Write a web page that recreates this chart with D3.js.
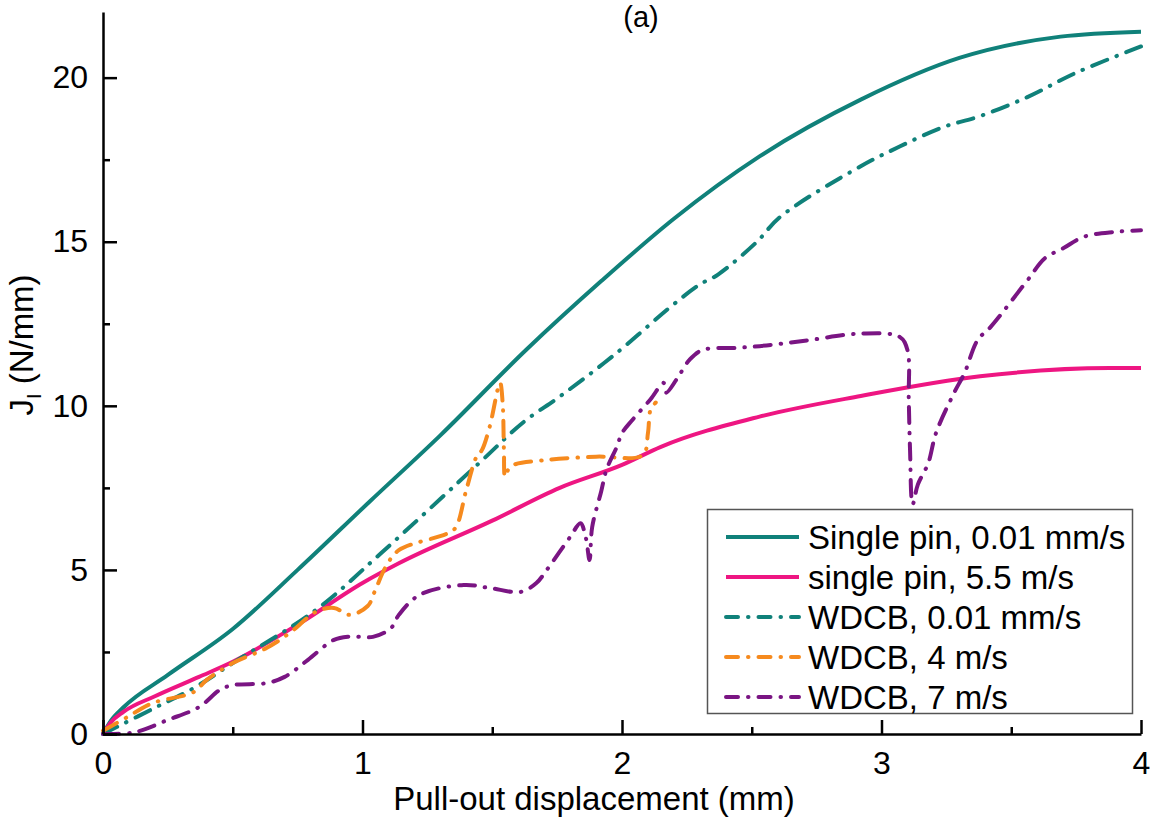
<!DOCTYPE html>
<html>
<head>
<meta charset="utf-8">
<script src="https://cdn.jsdelivr.net/npm/d3@7"></script>
<style>
  html, body { margin: 0; padding: 0; background: #fff; }
  svg { display: block; font-family: "Liberation Sans", Arial, sans-serif; }
</style>
</head>
<body>
<svg id="chart" width="1156" height="818"></svg>
<script>
// ---- data ----
const xTicks = [0, 1, 2, 3, 4];
const yTicks = [0, 5, 10, 15, 20];

const singleSlowX = [0, 0.03, 0.077, 0.25, 0.5, 0.75, 1.03, 1.3, 1.63, 1.92, 2.2, 2.53, 2.92, 3.3, 3.69, 4.0];
const singleSlowY = [0, 0.4, 0.8, 1.8, 3.2, 5.0, 7.1, 9.1, 11.7, 13.8, 15.7, 17.6, 19.33, 20.6, 21.25, 21.4];

const singleFastX = [0, 0.03, 0.08, 0.2, 0.37, 0.5, 0.76, 1.0, 1.14, 1.5, 1.76, 2.0, 2.15, 2.53, 2.92, 3.38, 3.88, 4.0];
const singleFastY = [0, 0.35, 0.68, 1.15, 1.74, 2.2, 3.38, 4.6, 5.2, 6.5, 7.5, 8.2, 8.75, 9.67, 10.3, 10.9, 11.15, 11.15];

const wdcbSlowX = [0, 0.03, 0.2, 0.35, 0.5, 0.82, 1.07, 1.45, 1.62, 1.76, 1.97, 2.2, 2.3, 2.37, 2.52, 2.61, 2.92, 3.07, 3.24, 3.37, 3.56, 3.75, 4.0];
const wdcbSlowY = [0, 0.12, 0.8, 1.4, 2.16, 3.78, 5.5, 8.26, 9.5, 10.28, 11.55, 13.1, 13.7, 14.0, 15.0, 15.76, 17.3, 17.9, 18.5, 18.8, 19.4, 20.15, 20.95];

const wdcb4X = [0, 0.09, 0.19, 0.35, 0.4, 0.5, 0.63, 0.72, 0.82, 0.89, 0.95, 1.02, 1.05, 1.09, 1.14, 1.33, 1.36, 1.4, 1.44, 1.46, 1.49, 1.53, 1.54, 1.545, 1.55, 1.57, 1.71, 1.9, 2.08, 2.1, 2.11, 2.13];
const wdcb4Y = [0.1, 0.5, 0.94, 1.28, 1.65, 2.16, 2.62, 3.08, 3.72, 3.84, 3.63, 3.9, 4.4, 5.1, 5.6, 6.12, 6.3, 7.44, 8.46, 8.65, 9.36, 10.7, 10.1, 8.65, 7.84, 8.15, 8.35, 8.45, 8.5, 9.17, 9.88, 10.1];

const wdcb7X = [0, 0.12, 0.25, 0.37, 0.45, 0.5, 0.63, 0.7, 0.79, 0.89, 0.95, 1.04, 1.11, 1.14, 1.22, 1.39, 1.49, 1.61, 1.67, 1.71, 1.8, 1.84, 1.86, 1.875, 1.885, 1.92, 1.94, 1.98, 2.0, 2.04, 2.11, 2.16, 2.17, 2.21, 2.26, 2.31, 2.45, 2.58, 2.72, 2.92, 3.07, 3.1, 3.105, 3.11, 3.12, 3.14, 3.18, 3.21, 3.28, 3.32, 3.37, 3.42, 3.56, 3.63, 3.7, 3.78, 3.9, 4.0];
const wdcb7Y = [0, 0.05, 0.43, 0.82, 1.34, 1.49, 1.55, 1.74, 2.26, 2.87, 2.97, 2.96, 3.23, 3.63, 4.24, 4.54, 4.45, 4.33, 4.6, 5.0, 6.0, 6.42, 6.0, 5.3, 6.3, 7.4, 8.05, 8.75, 9.17, 9.57, 10.2, 10.7, 10.4, 10.8, 11.4, 11.7, 11.77, 11.86, 12.0, 12.2, 12.1, 11.7, 10.2, 8.66, 7.0, 7.6, 8.25, 9.17, 10.4, 11.0, 12.0, 12.4, 13.8, 14.5, 14.8, 15.15, 15.3, 15.35];

const seriesNames = ["Single pin, 0.01 mm/s", "single pin, 5.5 m/s", "WDCB, 0.01 mm/s", "WDCB, 4 m/s", "WDCB, 7 m/s"];
const seriesColors = ["#10817a", "#ee1682", "#10817a", "#f68a1e", "#7a1583"];
const seriesDashed = [false, false, true, true, true];
const seriesX = [singleSlowX, singleFastX, wdcbSlowX, wdcb4X, wdcb7X];
const seriesY = [singleSlowY, singleFastY, wdcbSlowY, wdcb4Y, wdcb7Y];

// ---- layout ----
const svg = d3.select("#chart");
const mLeft = 103, mRight = 1141, mTop = 12, mBottom = 734;
const x = d3.scaleLinear().domain([0, 4]).range([mLeft, mRight]);
const y = d3.scaleLinear().domain([0, 22]).range([mBottom, mTop]);
const DASH = "16,10,0.5,10";

// series
seriesNames.forEach((name, i) => {
  const pts = seriesX[i].map((v, j) => [v, seriesY[i][j]]);
  const gen = d3.line().x(d => x(d[0])).y(d => y(d[1]))
    .curve(seriesDashed[i] ? d3.curveCatmullRom.alpha(0.5) : d3.curveMonotoneX);
  svg.append("path")
    .attr("d", gen(pts))
    .attr("fill", "none")
    .attr("stroke", seriesColors[i])
    .attr("stroke-width", 4)
    .attr("stroke-linecap", seriesDashed[i] ? "round" : "butt")
    .attr("stroke-linejoin", "round")
    .attr("stroke-dasharray", seriesDashed[i] ? DASH : null);
});

// axes
const tickStyle = g => {
  g.select(".domain").attr("stroke", "#000").attr("stroke-width", 2.5);
  g.selectAll(".tick line").attr("stroke", "#000").attr("stroke-width", 2.5);
  g.selectAll(".tick text").attr("fill", "#000").attr("font-size", 32).attr("font-family", "Liberation Sans, Arial, sans-serif");
};

const xMinor = d3.range(0.5, 4, 1);
const yMinor = d3.range(2.5, 22, 5);

const xAxis = svg.append("g").attr("transform", `translate(0,${mBottom})`)
  .call(d3.axisBottom(x).tickValues(xTicks).tickFormat(d3.format("d")).tickSizeInner(-14).tickSizeOuter(0).tickPadding(17));
tickStyle(xAxis);
svg.append("g").attr("transform", `translate(0,${mBottom})`)
  .call(d3.axisBottom(x).tickValues(xMinor).tickFormat("").tickSizeInner(-7).tickSizeOuter(0))
  .call(g => { g.select(".domain").remove(); g.selectAll(".tick line").attr("stroke", "#000").attr("stroke-width", 2.5); });

const yAxis = svg.append("g").attr("transform", `translate(${mLeft},0)`)
  .call(d3.axisLeft(y).tickValues(yTicks).tickFormat(d3.format("d")).tickSizeInner(-14).tickSizeOuter(0).tickPadding(15));
tickStyle(yAxis);
svg.append("g").attr("transform", `translate(${mLeft},0)`)
  .call(d3.axisLeft(y).tickValues(yMinor).tickFormat("").tickSizeInner(-7).tickSizeOuter(0))
  .call(g => { g.select(".domain").remove(); g.selectAll(".tick line").attr("stroke", "#000").attr("stroke-width", 2.5); });

// axis titles
svg.append("text")
  .attr("x", 594).attr("y", 810)
  .attr("text-anchor", "middle")
  .attr("font-size", 33)
  .text("Pull-out displacement (mm)");

const yt = svg.append("text")
  .attr("transform", "translate(33,345) rotate(-90)")
  .attr("text-anchor", "middle")
  .attr("font-size", 33);
yt.append("tspan").text("J");
yt.append("tspan").attr("font-size", 20).attr("dy", 8).text("I");
yt.append("tspan").attr("dy", -8).text(" (N/mm)");

// panel title
svg.append("text")
  .attr("x", 641).attr("y", 27)
  .attr("text-anchor", "middle")
  .attr("font-size", 29)
  .text("(a)");

// legend
const lg = svg.append("g");
lg.append("rect")
  .attr("x", 707.5).attr("y", 509.5).attr("width", 425).attr("height", 204)
  .attr("fill", "#fff").attr("stroke", "#555").attr("stroke-width", 1.5);
seriesNames.forEach((name, i) => {
  const cy = 537 + i * 40;
  lg.append("line")
    .attr("x1", 726).attr("x2", 799).attr("y1", cy).attr("y2", cy)
    .attr("stroke", seriesColors[i]).attr("stroke-width", 4)
    .attr("stroke-linecap", seriesDashed[i] ? "round" : "butt")
    .attr("stroke-dasharray", seriesDashed[i] ? "12,10,0.5,10" : null);
  lg.append("text")
    .attr("x", 808).attr("y", cy).attr("dy", "0.35em")
    .attr("font-size", 33)
    .text(name);
});
</script>
</body>
</html>
